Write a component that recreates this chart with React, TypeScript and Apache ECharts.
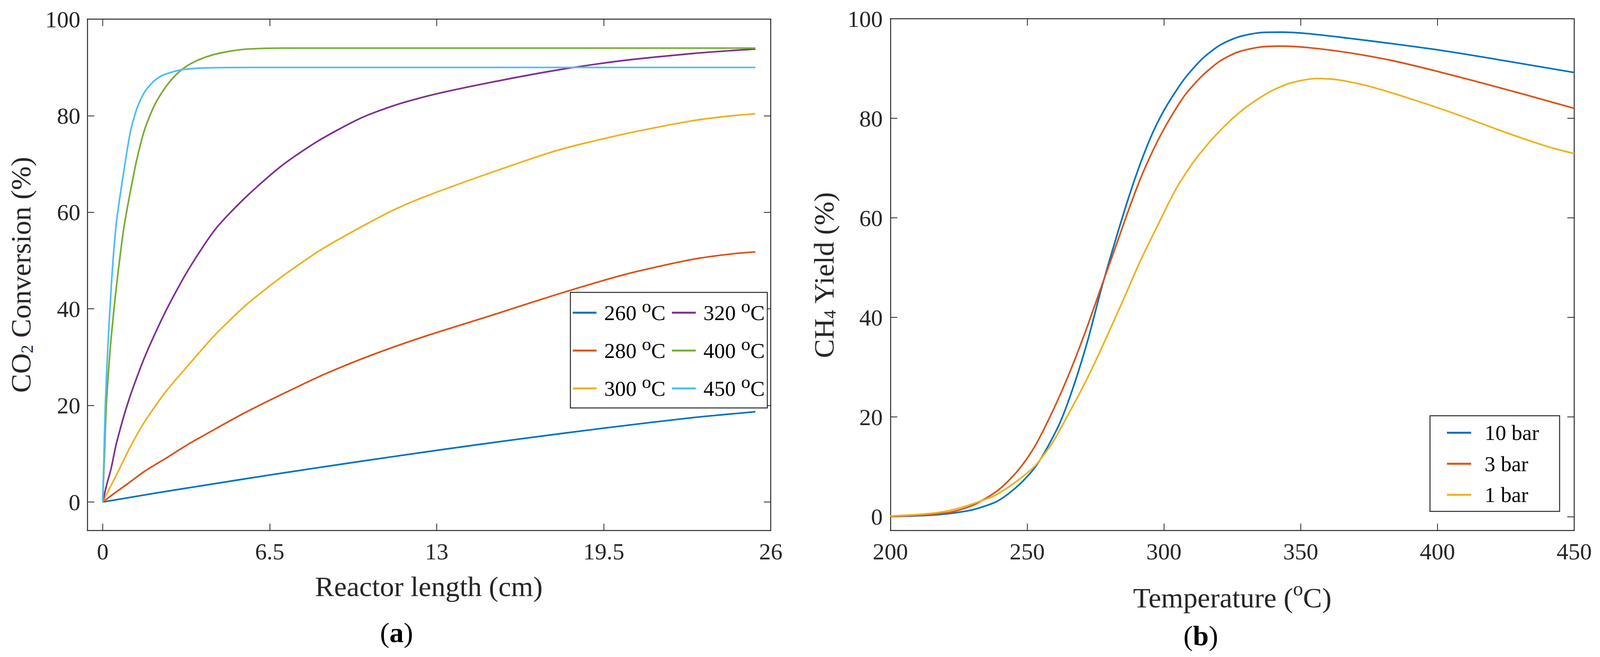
import React, { useEffect, useRef } from 'react';
import * as echarts from 'echarts';

const FONT = 'Liberation Serif';
const AXIS = '#262626';

// (a) CO2 conversion along the reactor, one curve per temperature
const lengthTicks = [0, 6.5, 13, 19.5, 26];
const conversionTicks = [0, 20, 40, 60, 80, 100];

const len260 = [0, 2, 4, 6.5, 10, 13, 16, 19.5, 23, 25.4];
const conv260 = [0, 1.8, 3.5, 5.6, 8.4, 10.7, 12.9, 15.3, 17.5, 18.7];

const len280 = [0, 0.5, 1, 1.64, 2.5, 3.31, 4.37, 5.5, 6.93, 8.69, 10.45, 12.47, 15.1, 17.74, 20.37, 23, 24.5, 25.4];
const conv280 = [0, 2.0, 3.9, 6.4, 9.2, 11.9, 15.1, 18.4, 22.2, 26.6, 30.4, 34.2, 38.6, 43.1, 47.2, 50.3, 51.4, 51.8];

const len300 = [0, 0.3, 0.58, 1.02, 1.64, 2.43, 3.31, 4.37, 5.6, 6.93, 8.51, 10, 11.33, 12.47, 15.1, 17.74, 20.37, 23, 24.5, 25.4];
const conv300 = [0, 3.2, 6.1, 10.9, 16.7, 22.7, 28.2, 34.6, 40.9, 46.5, 52.3, 56.8, 60.5, 63.1, 68.2, 72.9, 76.3, 79.0, 80.0, 80.4];

const len320 = [0, 0.15, 0.32, 0.54, 1.02, 1.64, 2.43, 3.31, 4.37, 5.52, 6.93, 8.33, 10, 11.33, 12.81, 15.1, 17.74, 20.37, 23, 24.5, 25.4];
const conv320 = [0, 3.5, 6.8, 12.3, 21.2, 30.1, 39.3, 47.9, 56.4, 62.9, 69.5, 74.6, 79.4, 82.1, 84.3, 86.9, 89.5, 91.5, 92.9, 93.5, 93.8];

const len400 = [0, 0.07, 0.14, 0.28, 0.42, 0.54, 0.8, 1.04, 1.33, 1.64, 2.0, 2.39, 2.8, 3.22, 3.7, 4.28, 5.0, 5.6, 7, 10, 25.4];
const conv400 = [0, 10, 20, 31, 39, 45, 56, 63.3, 71.0, 77.3, 82.0, 85.5, 88.2, 90.1, 91.5, 92.6, 93.4, 93.8, 94.0, 94.0, 94.0];

const len450 = [0, 0.05, 0.1, 0.18, 0.28, 0.4, 0.54, 0.76, 1.07, 1.35, 1.64, 2.0, 2.34, 3.05, 4, 6, 25.4];
const conv450 = [0, 10, 20, 30, 40, 50, 58.2, 66.4, 76.5, 81.8, 85.0, 87.2, 88.4, 89.5, 89.9, 90.0, 90.0];

// (b) CH4 yield against temperature, one curve per pressure
const tempTicks = [200, 250, 300, 350, 400, 450];
const yieldTicks = [0, 20, 40, 60, 80, 100];

const temp10 = [200, 214.2, 222.2, 230.3, 238.4, 243.2, 248, 252.9, 257.7, 262.5, 267.4, 272.2, 277, 281.9, 286.7, 291.5, 296.4, 301.2, 307.6, 314.1, 320.5, 327, 335, 343.1, 352.8, 367.3, 383.4, 399.5, 415.6, 431.7, 450];
const yield10 = [0, 0.27, 0.66, 1.4, 2.9, 4.6, 6.9, 9.9, 14.2, 19.5, 26.9, 35.5, 45.5, 54.8, 63.4, 71.1, 77.7, 82.7, 88.0, 92.0, 94.7, 96.3, 97.2, 97.3, 97.0, 96.1, 95.0, 93.8, 92.4, 90.9, 89.2];

const temp3 = [200, 214.2, 222.2, 230.3, 238.4, 243.2, 248, 252.9, 257.7, 262.5, 267.4, 272.2, 277, 281.9, 286.7, 291.5, 296.4, 301.2, 307.6, 314.1, 320.5, 327, 335, 343.1, 352.8, 367.3, 383.4, 399.5, 415.6, 431.7, 450];
const yield3 = [0, 0.4, 0.9, 2.3, 4.9, 7.2, 10.2, 14.2, 19.3, 25.0, 31.5, 38.5, 46.0, 53.5, 61.0, 68.0, 74.0, 79.0, 84.6, 88.6, 91.5, 93.3, 94.3, 94.5, 94.2, 93.2, 91.6, 89.5, 87.2, 84.8, 82.0];

const temp1 = [200, 214.2, 222.2, 230.3, 238.4, 246.4, 252.9, 259.3, 265.7, 272.2, 278.6, 285.1, 291.5, 298, 304.4, 310.9, 317.3, 323.8, 330.2, 338.3, 346.3, 356, 364, 375.3, 391.4, 407.5, 423.7, 439.8, 450];
const yield1 = [0.1, 0.6, 1.3, 2.6, 4.3, 7.2, 10.2, 14.9, 21.2, 28.0, 35.5, 43.5, 51.5, 58.8, 65.8, 71.3, 75.6, 79.3, 82.3, 85.2, 87.1, 88.0, 87.7, 86.4, 83.7, 80.7, 77.4, 74.4, 72.9];

const leftCurves = [
  { name: '260 °C', x: len260, y: conv260, color: '#0072BD' },
  { name: '280 °C', x: len280, y: conv280, color: '#D95319' },
  { name: '300 °C', x: len300, y: conv300, color: '#EDB120' },
  { name: '320 °C', x: len320, y: conv320, color: '#7E2F8E' },
  { name: '400 °C', x: len400, y: conv400, color: '#77AC30' },
  { name: '450 °C', x: len450, y: conv450, color: '#4DBEEE' },
];

const rightCurves = [
  { name: '10 bar', x: temp10, y: yield10, color: '#0072BD' },
  { name: '3 bar', x: temp3, y: yield3, color: '#D95319' },
  { name: '1 bar', x: temp1, y: yield1, color: '#EDB120' },
];

const zip = (xs: number[], ys: number[]) => xs.map((x, i) => [x, ys[i]]);

const App = () => {
  const chartRef = useRef(null);

  useEffect(() => {
    const chart = echarts.init(chartRef.current, null, { renderer: 'svg' });

    // layout was measured on a 4160 x 1683 page; scale it to the real viewport
    const sx = chart.getWidth() / 4160;
    const sy = chart.getHeight() / 1683;
    const sf = Math.min(sx, sy);
    const X = (v: number) => v * sx;
    const Y = (v: number) => v * sy;
    const F = (v: number) => v * sf;

    const makeAxis = (gridIndex: number, min: number, max: number, ticks: number[], position: string) => ({
      type: 'value',
      gridIndex,
      min,
      max,
      position,
      axisLine: { show: true, onZero: false, lineStyle: { color: AXIS, width: F(2.5) } },
      axisTick: { show: true, inside: true, length: F(18), customValues: ticks, lineStyle: { color: AXIS, width: F(2) } },
      axisLabel: { show: false },
      splitLine: { show: false },
    });

    const lineSeries = (c: any, axisIndex: number) => ({
      name: c.name,
      type: 'line',
      xAxisIndex: axisIndex,
      yAxisIndex: axisIndex,
      data: zip(c.x, c.y),
      showSymbol: false,
      smooth: 0.25,
      color: c.color,
      lineStyle: { color: c.color, width: F(4.2) },
    });

    chart.setOption({
      animation: false,
      backgroundColor: '#ffffff',
      textStyle: { fontFamily: FONT },
      grid: [
        { left: X(227), top: Y(49), width: X(1777), height: Y(1310) },
        { left: X(2315), top: Y(48), width: X(1778), height: Y(1311) },
      ],
      xAxis: [
        makeAxis(0, -0.6, 26, lengthTicks, 'bottom'),
        makeAxis(0, -0.6, 26, lengthTicks, 'top'),
        makeAxis(1, 200, 450, tempTicks, 'bottom'),
        makeAxis(1, 200, 450, tempTicks, 'top'),
      ],
      yAxis: [
        makeAxis(0, -5.9, 100, conversionTicks, 'left'),
        makeAxis(0, -5.9, 100, conversionTicks, 'right'),
        makeAxis(1, -2.8, 100, yieldTicks, 'left'),
        makeAxis(1, -2.8, 100, yieldTicks, 'right'),
      ],
      series: [
        ...leftCurves.map((c) => lineSeries(c, 0)),
        ...rightCurves.map((c) => lineSeries(c, 2)),
      ],
    });

    // tick labels, placed through the axes' own scales
    const toPx = (ai: number, x: number, y: number) =>
      chart.convertToPixel({ xAxisIndex: ai, yAxisIndex: ai }, [x, y]) as number[];

    const tickText = (x: number, y: number, text: string, align: string) => ({
      type: 'text',
      x,
      y,
      z: 50,
      style: { text, align, verticalAlign: 'middle', fontSize: F(61), fontFamily: FONT, fill: AXIS },
    });

    const labels: any[] = [];
    lengthTicks.forEach((v) => {
      const p = toPx(0, v, -5.9);
      labels.push(tickText(p[0], p[1] + Y(53), String(v), 'center'));
    });
    conversionTicks.forEach((v) => {
      const p = toPx(0, -0.6, v);
      labels.push(tickText(p[0] - X(18), p[1], String(v), 'right'));
    });
    tempTicks.forEach((v) => {
      const p = toPx(2, v, -2.8);
      labels.push(tickText(p[0], p[1] + Y(53), String(v), 'center'));
    });
    yieldTicks.forEach((v) => {
      const p = toPx(2, 200, v);
      labels.push(tickText(p[0] - X(20), p[1], String(v), 'right'));
    });

    // legends
    const legendItems: any[] = [];
    legendItems.push({
      type: 'rect',
      z: 60,
      shape: { x: X(1483), y: Y(749), width: X(512), height: Y(296) },
      style: { fill: '#ffffff', stroke: AXIS, lineWidth: F(2.5) },
    });
    leftCurves.forEach((c, i) => {
      const col = Math.floor(i / 3);
      const row = i % 3;
      const cy = Y(801 + row * 97);
      const lx = X(1489 + col * 258);
      legendItems.push({
        type: 'line',
        z: 61,
        shape: { x1: lx, y1: cy, x2: lx + X(62), y2: cy },
        style: { stroke: c.color, lineWidth: F(5) },
      });
      legendItems.push({
        type: 'text',
        z: 61,
        x: lx + X(82),
        y: cy,
        style: {
          text: `{t|${c.name.replace(' °C', ' ')}}{s|o}{t|C}`,
          align: 'left',
          verticalAlign: 'middle',
          rich: {
            t: { fontSize: F(56), lineHeight: F(82), fontFamily: FONT, fill: '#000' },
            s: { fontSize: F(48), lineHeight: F(36), fontFamily: FONT, fill: '#000', verticalAlign: 'top' },
          },
        },
      });
    });
    legendItems.push({
      type: 'rect',
      z: 60,
      shape: { x: X(3718), y: Y(1065), width: X(337), height: Y(245) },
      style: { fill: '#ffffff', stroke: AXIS, lineWidth: F(2.5) },
    });
    rightCurves.forEach((c, i) => {
      const cy = Y(1108.5 + i * 79.5);
      legendItems.push({
        type: 'line',
        z: 61,
        shape: { x1: X(3762), y1: cy, x2: X(3825), y2: cy },
        style: { stroke: c.color, lineWidth: F(5) },
      });
      legendItems.push({
        type: 'text',
        z: 61,
        x: X(3860),
        y: cy,
        style: { text: c.name, align: 'left', verticalAlign: 'middle', fontSize: F(56), fontFamily: FONT, fill: '#000' },
      });
    });

    const titles: any[] = [
      {
        type: 'text',
        x: X(54.5),
        y: Y(704),
        rotation: Math.PI / 2,
        style: {
          text: '{t|CO}{sub|2}{t| Conversion (%)}',
          align: 'center',
          verticalAlign: 'middle',
          rich: {
            t: { fontSize: F(74), lineHeight: F(74), fontFamily: FONT, fill: AXIS },
            sub: { fontSize: F(44), lineHeight: F(42), fontFamily: FONT, fill: AXIS, verticalAlign: 'bottom' },
          },
        },
      },
      {
        type: 'text',
        x: X(2142.5),
        y: Y(704),
        rotation: Math.PI / 2,
        style: {
          text: '{t|CH}{sub|4}{t| Yield (%)}',
          align: 'center',
          verticalAlign: 'middle',
          rich: {
            t: { fontSize: F(74), lineHeight: F(74), fontFamily: FONT, fill: AXIS },
            sub: { fontSize: F(44), lineHeight: F(42), fontFamily: FONT, fill: AXIS, verticalAlign: 'bottom' },
          },
        },
      },
      {
        type: 'text',
        x: X(1115),
        y: Y(1502),
        style: { text: 'Reactor length (cm)', align: 'center', verticalAlign: 'middle', fontSize: F(74), fontFamily: FONT, fill: AXIS },
      },
      {
        type: 'text',
        x: X(3204),
        y: Y(1531),
        style: {
          text: '{t|Temperature (}{s|o}{t|C)}',
          align: 'center',
          verticalAlign: 'middle',
          rich: {
            t: { fontSize: F(74), lineHeight: F(100), fontFamily: FONT, fill: AXIS },
            s: { fontSize: F(52), lineHeight: F(40), fontFamily: FONT, fill: AXIS, verticalAlign: 'top' },
          },
        },
      },
      {
        type: 'text',
        x: X(1031),
        y: Y(1620),
        style: {
          text: '{n|(}{b|a}{n|)}',
          align: 'center',
          verticalAlign: 'middle',
          rich: {
            n: { fontSize: F(74), fontFamily: FONT, fill: '#000' },
            b: { fontSize: F(74), fontFamily: FONT, fontWeight: 'bold', fill: '#000' },
          },
        },
      },
      {
        type: 'text',
        x: X(3122),
        y: Y(1628),
        style: {
          text: '{n|(}{b|b}{n|)}',
          align: 'center',
          verticalAlign: 'middle',
          rich: {
            n: { fontSize: F(74), fontFamily: FONT, fill: '#000' },
            b: { fontSize: F(74), fontFamily: FONT, fontWeight: 'bold', fill: '#000' },
          },
        },
      },
    ];

    chart.setOption({ graphic: [...labels, ...legendItems, ...titles] });

    return () => {
      chart.dispose();
    };
  }, []);

  return (
    <div
      ref={chartRef}
      style={{ position: 'fixed', left: 0, top: 0, width: '100vw', height: '100vh', background: '#fff' }}
    />
  );
};

export default App;
